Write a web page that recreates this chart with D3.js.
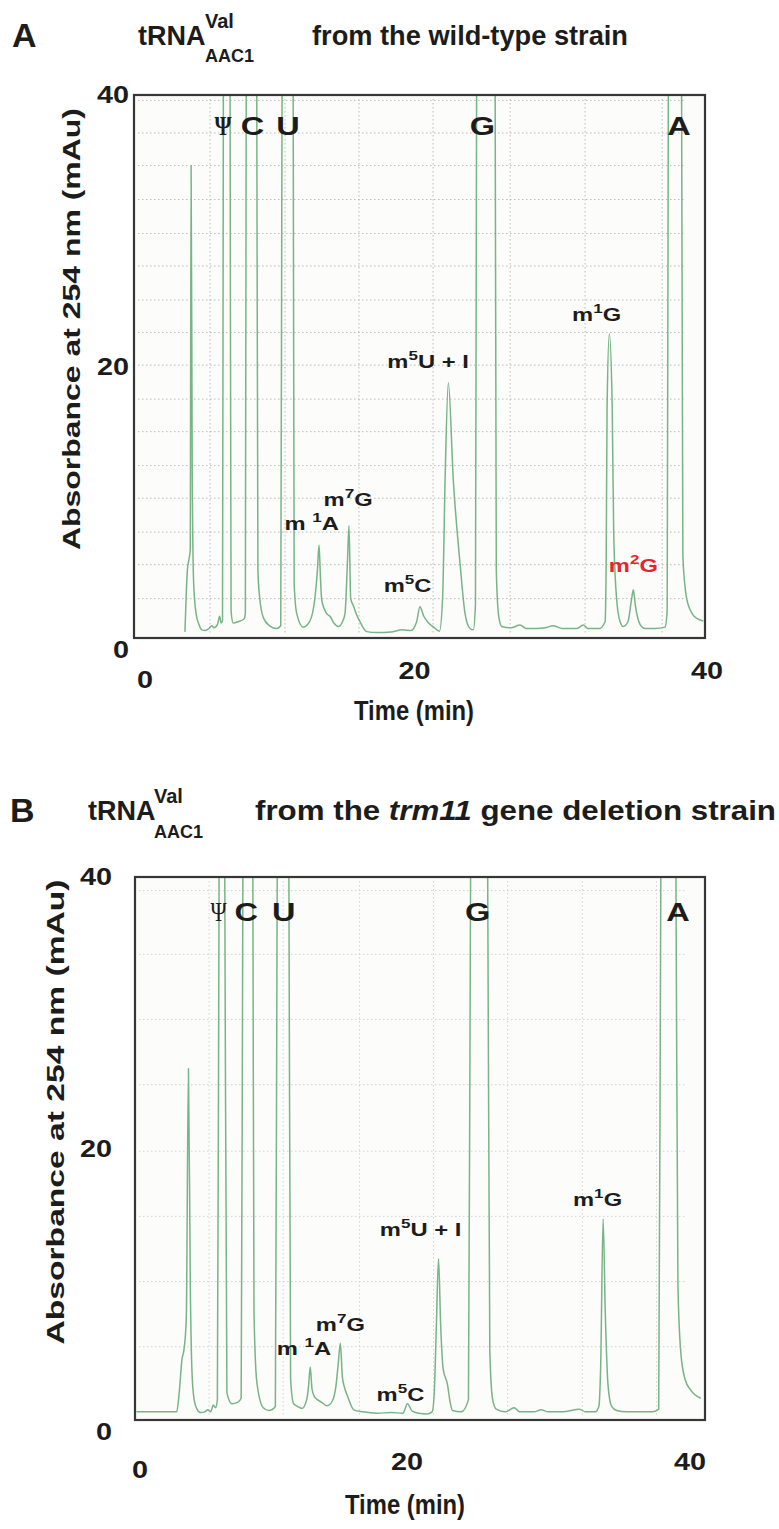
<!DOCTYPE html>
<html><head><meta charset="utf-8">
<script src="https://cdn.jsdelivr.net/npm/d3@7/dist/d3.min.js"></script>
<style>
body{margin:0;background:#fff;}
text{font-family:"Liberation Sans",Arial,Helvetica,sans-serif;font-weight:bold;fill:#1c1c1c;}
</style></head><body>
<svg id="fig" width="779" height="1529" xmlns="http://www.w3.org/2000/svg"></svg>
<script>
// ---------------- data ----------------
const timeA=[3.57,3.74,3.85,3.94,4.0,4.08,4.18,4.35,4.55,4.75,5.0,5.25,5.45,5.6,5.85,6.0,6.1,6.2,6.26,6.5,6.73,6.8,6.95,7.3,7.7,7.8,7.86,8.2,8.6,8.68,8.8,9.06,9.5,10.0,10.28,10.37,10.75,11.15,11.22,11.4,11.86,12.3,12.68,12.85,12.96,13.06,13.15,13.5,13.73,14.0,14.31,14.6,14.78,14.95,15.06,15.18,15.36,15.6,15.83,16.3,17.0,18.0,18.8,19.4,19.8,20.03,20.3,20.6,21.0,21.4,21.62,21.8,22.02,22.37,22.84,23.19,23.54,23.77,23.92,24.0,24.6,25.3,25.38,25.55,25.76,26.4,27.04,27.5,28.2,28.8,29.36,30.0,31.0,31.47,31.8,32.6,33.0,33.08,33.14,33.3,33.5,33.6,33.8,34.05,34.28,34.6,34.85,34.98,35.12,35.45,35.8,36.5,37.2,37.35,37.43,37.9,38.36,38.45,38.7,39.1,39.5,39.88];
const absA=[0.45,5.0,5.8,6.5,34.8,12,4,1.8,1.0,0.6,0.55,0.7,0.9,0.75,1.0,1.6,1.1,1.3,40,90,40,2.0,1.1,1.2,1.4,1.8,40,90,40,5,3.0,1.5,0.9,0.7,0.9,40,90,40,4,1.8,0.8,1.2,3.0,5.0,6.85,4.5,2.8,1.8,1.6,1.1,0.85,1.2,1.8,5.5,8.27,2.9,2.4,1.7,1.2,0.47,0.4,0.45,0.6,0.55,1.2,2.3,1.6,1.15,0.8,0.5,3,12,18.8,11.6,5.5,1.8,0.7,0.6,2.5,40,90,40,5,1.6,0.85,0.75,0.95,0.7,0.7,0.75,0.9,0.7,0.7,0.95,0.7,0.7,1.2,6,17,22.4,17,8,3,1.2,0.85,1.2,2.8,3.55,2.4,1.0,0.7,0.7,0.8,2.0,40,90,40,6,3.0,1.8,1.4,1.25];
const timeB=[0.1,1.0,2.0,2.93,3.1,3.3,3.44,3.6,3.75,3.88,4.0,4.15,4.35,4.6,4.9,5.1,5.3,5.5,5.65,5.78,5.9,6.1,6.3,6.45,6.8,7.2,7.45,7.57,7.9,8.27,8.35,8.55,9.0,9.4,9.85,9.98,10.4,10.8,10.92,11.13,11.4,11.72,12.05,12.18,12.3,12.42,12.6,12.8,13.1,13.48,13.85,14.1,14.25,14.41,14.55,14.7,14.9,15.35,16.0,17.0,18.0,18.8,19.12,19.45,19.9,20.5,20.85,21.0,21.15,21.3,21.45,21.62,21.93,22.1,22.28,22.9,23.4,23.55,24.15,24.75,24.9,25.1,25.35,26.0,26.6,27.0,28.0,28.5,29.0,30.0,31.2,31.6,32.3,32.55,32.68,32.85,33.0,33.2,33.45,33.8,34.5,35.5,36.3,36.75,36.9,37.4,37.96,38.1,38.3,38.6,39.0,39.7];
const absB=[0.6,0.6,0.6,0.6,2.0,4.5,5.2,7.5,25.9,10,3.5,1.5,0.8,0.55,0.6,0.75,0.6,1.1,0.9,1.5,40,90,40,2.0,1.2,1.3,1.6,40,90,40,8,2.8,0.9,0.7,1.0,40,90,40,3,1.2,1.0,0.85,1.5,2.5,3.9,2.3,1.7,1.5,1.3,1.05,1.4,2.5,4.0,5.65,3.2,2.4,1.8,0.75,0.6,0.5,0.55,0.5,1.2,0.65,0.5,0.45,0.6,2.0,7.0,11.9,7.0,3.8,2.6,1.4,0.7,0.6,1.5,40,90,40,5,1.5,0.8,0.6,0.9,0.6,0.6,0.75,0.6,0.6,0.8,0.6,0.6,1.0,4.0,14.8,8.0,2.5,1.0,0.7,0.6,0.6,0.6,0.8,40,90,40,10,5.0,3.0,2.2,1.6];
const xTickValues=[0,20,40];
const yTickValues=[0,20,40];
const gridTimeA=[5.32,10.58,15.76,20.95,26.35,31.6,37.0];
const gridAbsA=[2.9,5.4,7.8,10.3,12.7,15.2,17.6,20.1,22.5,24.9,27.4,29.8,32.3,34.8,37.2,39.6];
const gridTimeB=[5.2,10.4,15.75,20.95,26.15,31.4,36.6];
const gridAbsB=[5.4,10.2,15.0,19.8,24.7,29.5,34.3,39.0];
const peakNamesA=["Ψ","C","U","G","A","m{5}U + I","m{1}G","m {1}A","m{7}G","m{5}C","m{2}G"];
const peakTimeA=[6.23,8.3,10.79,24.41,38.17,20.6,32.41,12.45,15.0,19.16,34.98];
const peakAbsA=[37.05,37.05,37.05,37.05,37.05,19.87,23.37,7.96,9.72,3.37,4.89];
const peakNamesB=["Ψ","C","U","G","A","m{5}U + I","m{1}G","m {1}A","m{7}G","m{5}C"];
const peakTimeB=[5.86,7.8,10.43,24.04,38.1,20.04,32.46,11.85,14.41,18.63];
const peakAbsB=[36.78,36.78,36.78,36.78,36.78,13.55,15.76,4.79,6.56,1.4];
const highlightPeak="m{2}G";
const yAxisTitle="Absorbance at 254 nm (mAu)";
const xAxisTitle="Time (min)";

// ---------------- drawing ----------------
const svg=d3.select("#fig");

function rich(t,str,size){
  const re=/\{([^}]*)\}|[^{]+/g; let m; let up=false; const r=size*0.42;
  while((m=re.exec(str))){
    if(m[1]!==undefined){t.append("tspan").attr("font-size",size*0.72).attr("dy",-r).text(m[1]);up=true;}
    else{const s=t.append("tspan").text(m[0]); if(up){s.attr("dy",r);up=false;}}
  }
}
function wtext(x,y,rot,size,anchor,sx){
  return svg.append("text").attr("transform",`translate(${x},${y}) rotate(${rot}) scale(${sx},1)`)
    .attr("font-size",size).attr("text-anchor",anchor);
}

const panels=[
 {id:"A",time:timeA,abs:absA,left:134,right:705,top:95,bottom:638,gridT:gridTimeA,gridV:gridAbsA,gridColor:"#b4b4b4",
  names:peakNamesA,pt:peakTimeA,pv:peakAbsA,yLabEnd:129,xLabOff:[11,-5,2],xLabBase:[688,679,679],psiWeight:"bold",
  yTitleX:80,yTitleY:329,yTitleLen:442,xTitleX:414,xTitleY:720,
  letter:"A",letterX:12,letterY:47,tX:138,tY:45,supX:205,supY:28,subY:62,suffix:["from the wild-type strain"],fromX:312,fromLen:316,fromSize:27},
 {id:"B",time:timeB,abs:absB,left:135,right:705,top:877,bottom:1420,gridT:gridTimeB,gridV:gridAbsB,gridColor:"#cfcfcf",
  names:peakNamesB,pt:peakTimeB,pv:peakAbsB,yLabEnd:112,xLabOff:[5,-13,-15],xLabBase:[1478,1470,1470],psiWeight:"normal",
  yTitleX:64,yTitleY:1112,yTitleLen:465,xTitleX:405,xTitleY:1514,
  letter:"B",letterX:10,letterY:822,tX:88,tY:820,supX:154,supY:803,subY:838,suffix:["from the ","trm11"," gene deletion strain"],fromX:255,fromLen:521,fromSize:28}
];

panels.forEach(p=>{
  const x=d3.scaleLinear().domain([0,40]).range([p.left,p.right]);
  const y=d3.scaleLinear().domain([0,40]).range([p.bottom,p.top]);
  const g=svg.append("g");
  g.append("rect").attr("x",p.left).attr("y",p.top).attr("width",p.right-p.left).attr("height",p.bottom-p.top).attr("fill","#fcfcfa");
  g.selectAll(null).data(p.gridT).join("line").attr("x1",d=>x(d)).attr("x2",d=>x(d)).attr("y1",p.top+4).attr("y2",p.bottom-3)
    .attr("stroke",p.gridColor).attr("stroke-width",0.9).attr("stroke-dasharray","1.5,2.5");
  g.selectAll(null).data(p.gridV).join("line").attr("y1",d=>y(d)).attr("y2",d=>y(d)).attr("x1",p.left+4).attr("x2",p.right-20)
    .attr("stroke",p.gridColor).attr("stroke-width",0.9).attr("stroke-dasharray","1.5,2.5");
  const cid="clip"+p.id;
  svg.append("clipPath").attr("id",cid).append("rect").attr("x",p.left).attr("y",p.top).attr("width",p.right-p.left).attr("height",p.bottom-p.top);
  const line=d3.line().x(d=>x(d[0])).y(d=>y(d[1])).curve(d3.curveMonotoneX);
  g.append("path").datum(d3.zip(p.time,p.abs)).attr("d",line).attr("clip-path",`url(#${cid})`)
    .attr("fill","none").attr("stroke","#78b487").attr("stroke-width",1.5).attr("stroke-linejoin","round");
  g.append("rect").attr("x",p.left).attr("y",p.top).attr("width",p.right-p.left).attr("height",p.bottom-p.top)
    .attr("fill","none").attr("stroke","#363636").attr("stroke-width",2.2);

  // y tick labels
  yTickValues.forEach(v=>{
    wtext(p.yLabEnd,y(v)+(v===0?20:8),0,24,"end",1.2).text(v);
  });
  // x tick labels
  xTickValues.forEach((v,i)=>{
    wtext(x(v)+p.xLabOff[i],p.xLabBase[i],0,24,"middle",1.2).text(v);
  });
  // axis titles
  svg.append("text").attr("transform",`translate(${p.yTitleX},${p.yTitleY}) rotate(-90)`).attr("font-size",24)
    .attr("text-anchor","middle").attr("textLength",p.yTitleLen).attr("lengthAdjust","spacingAndGlyphs").text(yAxisTitle);
  svg.append("text").attr("x",p.xTitleX).attr("y",p.xTitleY).attr("font-size",27).attr("text-anchor","middle")
    .attr("textLength",120).attr("lengthAdjust","spacingAndGlyphs").text(xAxisTitle);

  // peak labels
  p.names.forEach((n,i)=>{
    const px=x(p.pt[i]), py=y(p.pv[i]);
    if(n==="Ψ"){
      wtext(px,py,0,28,"middle",0.78).style("font-family","'Liberation Serif','DejaVu Serif',serif").style("font-weight",p.psiWeight).text(n);
    } else if(!n.includes("{")){
      wtext(px,py,0,25,"middle",1.3).text(n);
    } else {
      const t=wtext(px,py,0,19,"middle",1.25);
      rich(t,n,19);
      if(n===highlightPeak){ t.style("fill","#e8242b"); t.selectAll("tspan").style("fill","#e8242b"); }
    }
  });

  // panel title
  wtext(p.letterX,p.letterY,0,34,"start",1).text(p.letter);
  wtext(p.tX,p.tY,0,27,"start",1).text("tRNA");
  wtext(p.supX,p.supY,0,20,"start",1).text("Val");
  wtext(p.supX,p.subY,0,18,"start",1).text("AAC1");
  const tt=svg.append("text").attr("x",p.fromX).attr("y",p.tY).attr("font-size",p.fromSize)
    .attr("textLength",p.fromLen).attr("lengthAdjust","spacingAndGlyphs");
  p.suffix.forEach((s,i)=>{const sp=tt.append("tspan").text(s); if(i===1) sp.style("font-style","italic");});
});
</script>
</body></html>
